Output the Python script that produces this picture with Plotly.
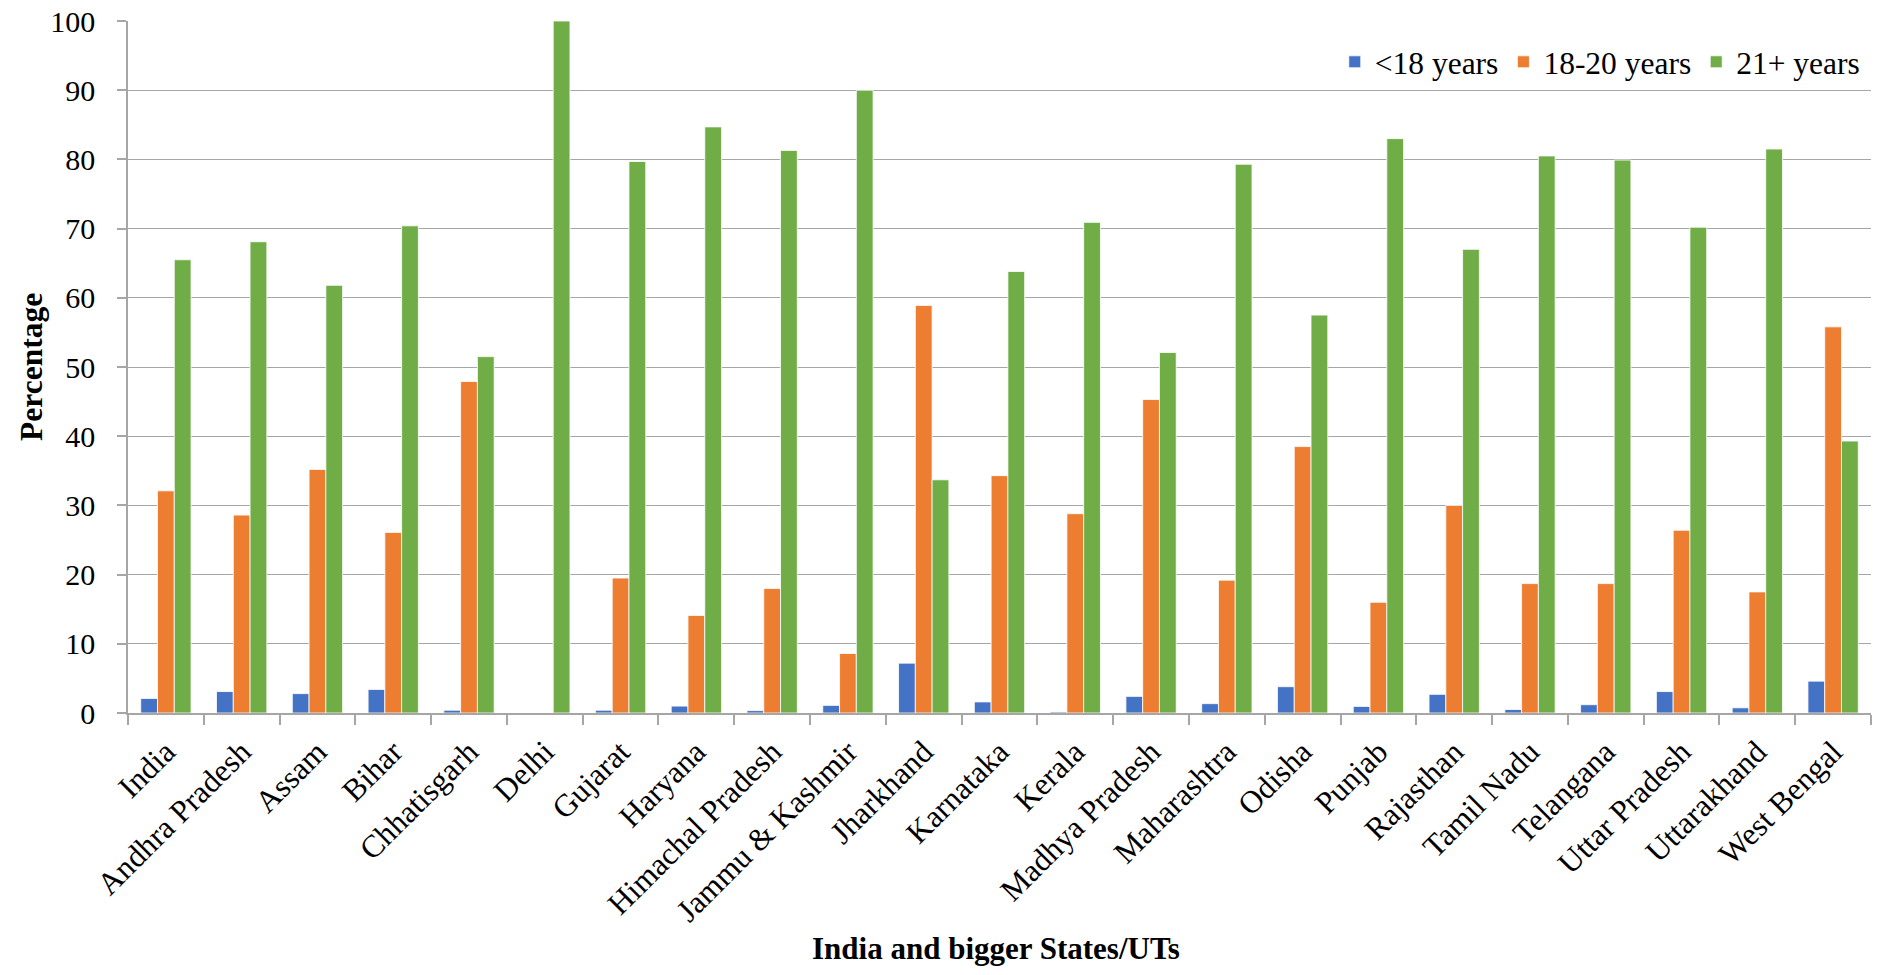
import plotly.graph_objects as go

categories = ["India", "Andhra Pradesh", "Assam", "Bihar", "Chhatisgarh", "Delhi", "Gujarat",
              "Haryana", "Himachal Pradesh", "Jammu & Kashmir", "Jharkhand", "Karnataka", "Kerala",
              "Madhya Pradesh", "Maharashtra", "Odisha", "Punjab", "Rajasthan", "Tamil Nadu",
              "Telangana", "Uttar Pradesh", "Uttarakhand", "West Bengal"]

under18 = [2.1, 3.1, 2.8, 3.4, 0.4, 0.0, 0.4, 1.0, 0.35, 1.1, 7.2, 1.6, 0.15, 2.4, 1.35,
           3.8, 0.95, 2.7, 0.5, 1.2, 3.1, 0.75, 4.6]
age18_20 = [32.1, 28.6, 35.2, 26.1, 47.9, 0.0, 19.5, 14.1, 18.0, 8.6, 58.9, 34.3, 28.8, 45.3, 19.2,
            38.5, 16.0, 30.0, 18.7, 18.7, 26.4, 17.5, 55.8]
age21plus = [65.5, 68.1, 61.8, 70.4, 51.5, 100.0, 79.7, 84.7, 81.3, 90.0, 33.7, 63.8, 70.9, 52.1, 79.3,
             57.5, 83.0, 67.0, 80.5, 79.9, 70.2, 81.5, 39.3]

series_names = ["<18 years", "18-20 years", "21+ years"]
colors = ["#4472C4", "#ED7D31", "#70AD47"]

x_title = "India and bigger States/UTs"
y_title = "Percentage"

FONT = "Liberation Serif"

fig = go.Figure()
for name, vals, col in zip(series_names, [under18, age18_20, age21plus], colors):
    fig.add_trace(go.Bar(x=categories, y=vals, name=name,
                         marker=dict(color=col, line=dict(color="white", width=0.8))))

fig.update_layout(
    width=1886, height=975,
    barmode="group", bargap=0.336, bargroupgap=0,
    plot_bgcolor="white", paper_bgcolor="white",
    margin=dict(l=128, r=15, t=21, b=262, autoexpand=False),
    font=dict(family=FONT, size=30, color="black"),
    legend=dict(orientation="h", x=0.997, xanchor="right", y=0.941, yanchor="middle",
                bgcolor="rgba(0,0,0,0)", font=dict(family=FONT, size=31.5),
                itemwidth=30, traceorder="normal"),
    showlegend=True,
    annotations=[
        dict(text="<b>" + x_title + "</b>", xref="paper", yref="paper", x=0.498, y=-0.3396,
             xanchor="center", yanchor="middle", showarrow=False,
             font=dict(family=FONT, size=31, color="black")),
        dict(text="<b>" + y_title + "</b>", xref="paper", yref="paper", x=-0.0557, y=0.5,
             xanchor="center", yanchor="middle", textangle=-90, showarrow=False,
             font=dict(family=FONT, size=31.5, color="black")),
    ],
)
fig.update_xaxes(
    type="category", tickangle=-45, tickfont=dict(family=FONT, size=31.5),
    showline=True, linecolor="#a6a6a6", linewidth=1.5,
    ticks="outside", tickson="boundaries", ticklen=10, tickcolor="#a6a6a6", tickwidth=1.5,
    ticklabelstandoff=6,
    showgrid=False, automargin=False,
)
fig.update_yaxes(
    range=[0, 100], dtick=10, tickfont=dict(family=FONT, size=30),
    showline=True, linecolor="#a6a6a6", linewidth=1.5,
    ticks="outside", ticklen=9, tickcolor="#a6a6a6", tickwidth=1.5,
    ticklabelstandoff=16, ticklabeloverflow="allow",
    showgrid=True, gridcolor="#a6a6a6", gridwidth=1.2, zeroline=False, automargin=False,
)

fig.write_html("out.html", config={"displayModeBar": False},
               post_script="document.body.style.margin='0px';")
